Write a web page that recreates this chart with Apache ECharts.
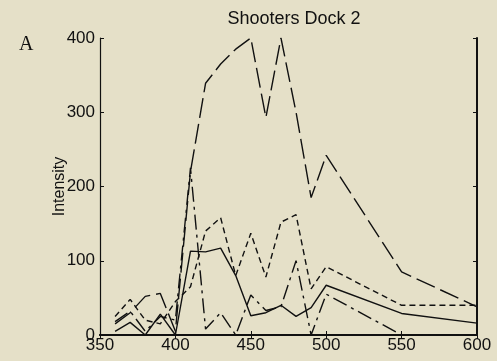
<!DOCTYPE html>
<html>
<head>
<meta charset="utf-8">
<script src="https://cdn.jsdelivr.net/npm/echarts@6/dist/echarts.min.js"></script>
<style>
  html, body { margin: 0; padding: 0; background: #e5e0c8; }
  #chart { width: 497px; height: 361px; }
</style>
</head>
<body>
<div id="chart"></div>
<script>
// Wavelength (nm) sample points
const wavelengths = [360, 370, 380, 390, 400, 410, 420, 430, 440, 450, 460, 470, 480, 490, 500, 550, 600];

// Intensity traces
const solidTrace     = [5, 17, 0, 28, 0, 113, 112, 117, 80, 26, 30, 40, 25, 37, 67, 29, 16];
const longDashTrace  = [15, 30, 52, 56, 5, 220, 339, 365, 385, 400, 293, 400, 300, 185, 242, 85, 38];
const shortDashTrace = [25, 48, 20, 15, 45, 65, 140, 158, 80, 137, 78, 152, 162, 62, 92, 40, 40];
const dashDotTrace   = [18, 32, 5, 25, 20, 225, 8, 30, 0, 54, 33, 38, 100, 0, 55, 0, 0];

const ink = '#111';
const font = '"Liberation Sans", Arial, sans-serif';

function pairs(ys) { return wavelengths.map((x, i) => [x, ys[i]]); }

function trace(ys, dash) {
  return {
    type: 'line',
    data: pairs(ys),
    symbol: 'none',
    animation: false,
    clip: true,
    lineStyle: { color: ink, width: 1.4, type: dash }
  };
}

const chart = echarts.init(document.getElementById('chart'), null, { renderer: 'canvas' });
chart.setOption({
  backgroundColor: '#e5e0c8',
  animation: false,
  title: {
    text: 'Shooters Dock 2',
    left: 289, top: 5, textAlign: 'center',
    textStyle: { fontFamily: font, fontSize: 18, fontWeight: 'normal', color: ink }
  },
  graphic: [{
    type: 'text', left: 19, top: 35,
    style: { text: 'A', font: '20px "Liberation Serif", "Times New Roman", serif', fill: ink }
  }],
  grid: { left: 100, right: 20, top: 38, bottom: 26 },
  xAxis: [{
    type: 'value', min: 350, max: 600, interval: 50, position: 'bottom',
    axisLine: { lineStyle: { color: ink, width: 2 } },
    axisTick: { inside: true, length: 4, lineStyle: { color: ink } },
    axisLabel: { color: ink, fontFamily: font, fontSize: 17, margin: 2 },
    splitLine: { show: false }
  }, {
    type: 'value', min: 350, max: 600, interval: 50, position: 'top',
    axisLine: { lineStyle: { color: ink, width: 2 } },
    axisTick: { inside: true, length: 4, lineStyle: { color: ink } },
    axisLabel: { show: false },
    splitLine: { show: false }
  }],
  yAxis: [{
    type: 'value', min: 0, max: 400, interval: 100, position: 'left',
    name: 'Intensity', nameLocation: 'middle', nameGap: 32, nameMoveOverlap: false,
    nameTextStyle: { color: ink, fontFamily: font, fontSize: 16 },
    axisLine: { lineStyle: { color: ink, width: 1.2 } },
    axisTick: { inside: true, length: 4, lineStyle: { color: ink } },
    axisLabel: { color: ink, fontFamily: font, fontSize: 17, margin: 5 },
    splitLine: { show: false }
  }, {
    type: 'value', min: 0, max: 400, interval: 100, position: 'right',
    axisLine: { lineStyle: { color: ink, width: 2 } },
    axisTick: { inside: true, length: 4, lineStyle: { color: ink } },
    axisLabel: { show: false },
    splitLine: { show: false }
  }],
  series: [
    trace(solidTrace, 'solid'),
    trace(longDashTrace, [20, 6]),
    trace(shortDashTrace, [6, 4]),
    trace(dashDotTrace, [15, 5, 3, 5])
  ]
});
</script>
</body>
</html>
